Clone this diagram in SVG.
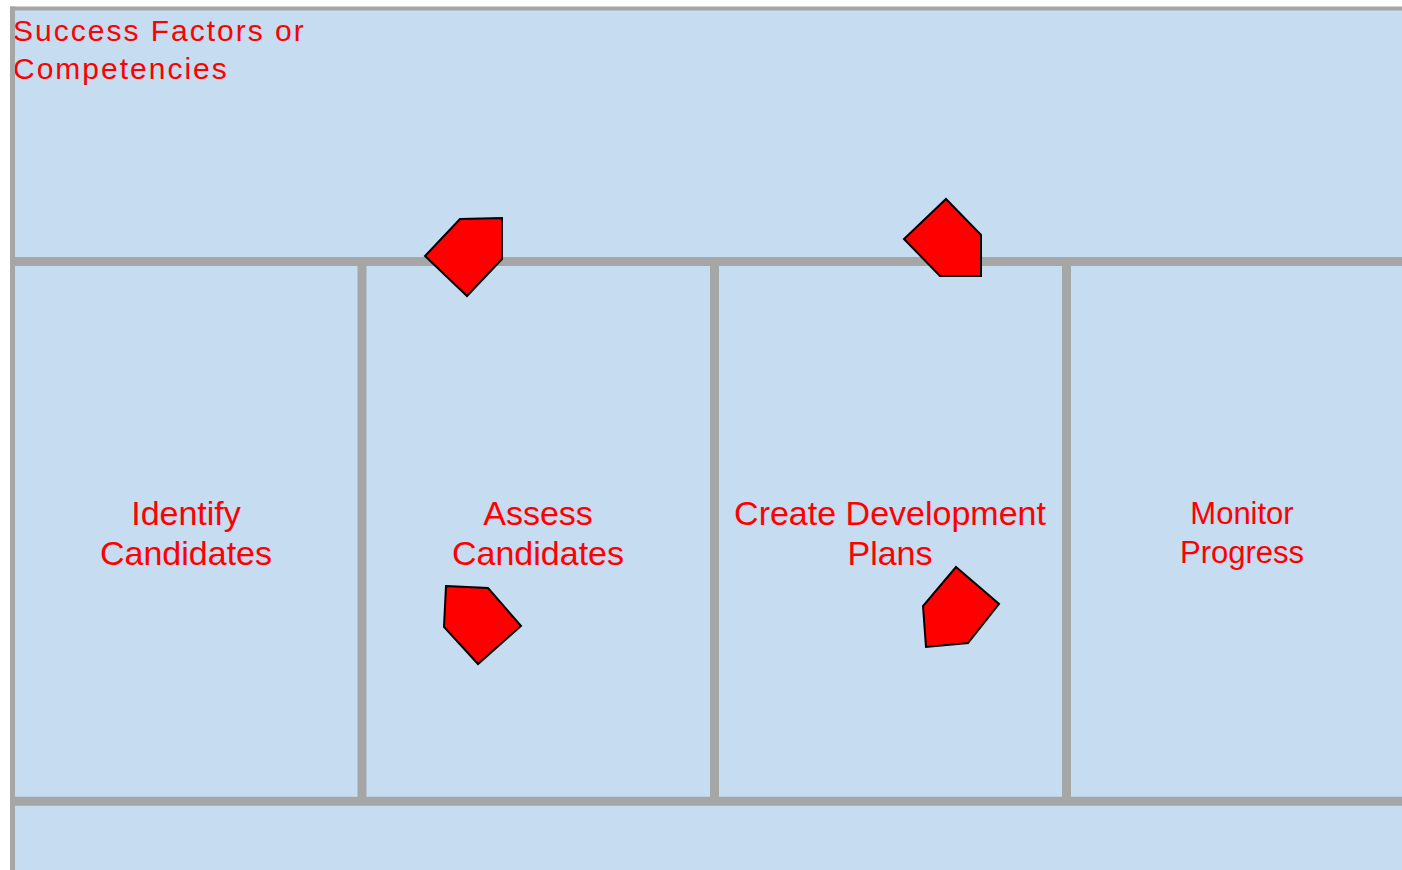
<svg xmlns="http://www.w3.org/2000/svg" width="1402" height="870" viewBox="0 0 1402 870">
  <style>
    .cell { fill: #C6DCF0; }
    .grid { stroke: #A6A6A6; fill: none; }
    .label { font-family: "Liberation Sans", Arial, sans-serif; fill: #FF0000; text-anchor: middle; }
    .title { font-family: "Liberation Sans", Arial, sans-serif; fill: #FF0000; font-size: 30px; letter-spacing: 2px; }
    .tag { fill: #FF0000; stroke: #000000; stroke-width: 2; stroke-linejoin: miter; }
  </style>

  <rect x="0" y="0" width="1402" height="870" fill="#FFFFFF"/>

  <!-- top band -->
  <g id="success-factors">
    <rect class="cell" x="10" y="7" width="1392" height="255"/>
    <text class="title" x="13" y="40.5">Success Factors or</text>
    <text class="title" x="13" y="79">Competencies</text>
  </g>

  <!-- process lanes -->
  <g id="identify-candidates">
    <rect class="cell" x="10" y="262" width="352" height="539"/>
    <text class="label" font-size="34" x="186" y="525">Identify</text>
    <text class="label" font-size="34" x="186" y="565">Candidates</text>
  </g>

  <g id="assess-candidates">
    <rect class="cell" x="362" y="262" width="352" height="539"/>
    <text class="label" font-size="34" x="538" y="525">Assess</text>
    <text class="label" font-size="34" x="538" y="565">Candidates</text>
  </g>

  <g id="create-development-plans">
    <rect class="cell" x="714" y="262" width="352" height="539"/>
    <text class="label" font-size="34" x="890" y="525">Create Development</text>
    <text class="label" font-size="34" x="890" y="565">Plans</text>
  </g>

  <g id="monitor-progress">
    <rect class="cell" x="1066" y="262" width="336" height="539"/>
    <text class="label" font-size="31" x="1242" y="524">Monitor</text>
    <text class="label" font-size="31" x="1242" y="563">Progress</text>
  </g>

  <!-- bottom band -->
  <g id="bottom-band">
    <rect class="cell" x="10" y="801" width="1392" height="69"/>
  </g>

  <!-- lane borders -->
  <g id="grid">
    <line class="grid" x1="10" y1="8.5" x2="1402" y2="8.5" stroke-width="4"/>
    <line class="grid" x1="12.5" y1="6.5" x2="12.5" y2="870" stroke-width="5"/>
    <line class="grid" x1="10" y1="261.5" x2="1402" y2="261.5" stroke-width="9"/>
    <line class="grid" x1="10" y1="801.3" x2="1402" y2="801.3" stroke-width="9"/>
    <line class="grid" x1="362" y1="261.5" x2="362" y2="801.3" stroke-width="9"/>
    <line class="grid" x1="714.5" y1="261.5" x2="714.5" y2="801.3" stroke-width="9"/>
    <line class="grid" x1="1066.5" y1="261.5" x2="1066.5" y2="801.3" stroke-width="9"/>
  </g>

  <!-- flow markers -->
  <g id="connectors">
    <polygon class="tag" points="460,219 502,218 502,259 467,296 425,256"/>
    <polygon class="tag" points="946,199 981,235 981,276 940,276 904,239"/>
    <polygon class="tag" points="446,586 488,588 521,626 478,664 444,627"/>
    <polygon class="tag" points="956,567 999,604 968,643 926,647 923,606"/>
  </g>
</svg>
